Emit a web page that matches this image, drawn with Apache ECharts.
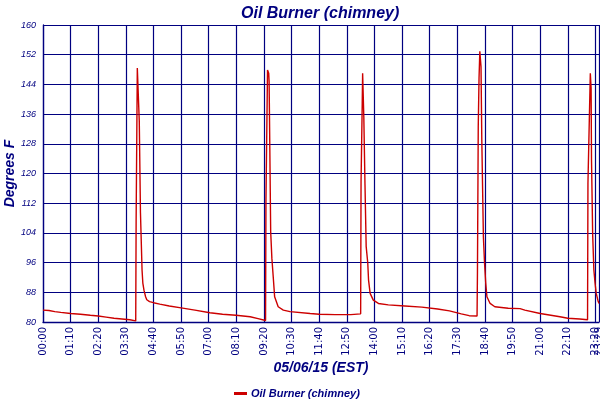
<!DOCTYPE html>
<html lang="en">
<head>
    <meta charset="UTF-8">
    <title>Oil Burner (chimney)</title>
    <script src="https://cdn.jsdelivr.net/npm/echarts@6/dist/echarts.min.js"></script>
    <style>
        html, body { margin: 0; padding: 0; background: #fff; }
    </style>
</head>
<body>
<div id="main" style="width: 600px;height:400px;"></div>
<script>
    // minutes after midnight, 05/06/15
    var times = [0, 15, 30, 45, 70, 95, 120, 140, 160, 180, 200, 220, 235,
        236, 238, 239, 243, 244, 247, 251, 253, 256, 260, 263, 270, 280, 296, 320,
        350, 385, 423, 455, 489, 525, 545, 564,
        565, 568, 569, 572, 573, 574, 577, 580, 584, 587, 596, 609, 626, 677,
        700, 740, 780, 805,
        806, 808, 809, 810, 812, 813, 816, 819, 823, 825, 829, 837, 850, 875, 917,
        960, 1000, 1030, 1060, 1080, 1100,
        1101, 1103, 1105, 1107, 1109, 1110, 1112, 1116, 1119, 1122, 1125, 1133, 1145, 1179,
        1209, 1221, 1260, 1310, 1330, 1360, 1380,
        1381, 1386, 1387, 1389, 1390, 1393, 1396, 1399, 1402, 1407, 1409];
    // degrees F
    var temps = [83.2, 83.1, 82.8, 82.6, 82.3, 82.1, 81.8, 81.6, 81.3, 81.0, 80.8, 80.6, 80.3,
        107.2, 107.2, 148.4, 148.4, 134.0, 109.4, 94.0, 90.5, 88.5, 86.8, 86.0, 85.5, 85.2, 84.8, 84.3,
        83.8, 83.2, 82.5, 82.1, 81.8, 81.4, 80.9, 80.4,
        112.9, 112.9, 147.9, 147.0, 144.8, 134.9, 104.3, 97.2, 91.3, 86.8, 84.1, 83.2, 82.8, 82.3,
        82.1, 82.0, 82.0, 82.2,
        117.8, 117.8, 139.0, 147.0, 147.0, 135.3, 116.9, 100.3, 95.9, 91.3, 87.7, 85.9, 85.0, 84.6, 84.3,
        84.0, 83.5, 83.0, 82.2, 81.7, 81.6,
        93.6, 132.6, 145.7, 152.9, 152.9, 148.8, 129.0, 103.0, 95.8, 90.4, 86.8, 85.0, 84.1, 83.7,
        83.6, 83.2, 82.3, 81.4, 81.0, 80.8, 80.6,
        117.4, 117.4, 147.0, 143.0, 123.7, 103.4, 94.0, 90.5, 87.7, 85.5, 85.0];

    var yMin = 80, yMax = 160, yStep = 8;
    var xStep = 70;   // tick every 01:10
    var xEnd = times[times.length - 1];

    var navy = '#000080';
    var red = '#cc0000';

    function hhmm(m) {
        var h = Math.floor(m / 60), mm = Math.round(m % 60);
        return (h < 10 ? '0' : '') + h + ':' + (mm < 10 ? '0' : '') + mm;
    }

    var points = [];
    for (var i = 0; i < times.length; i++) {
        points.push([times[i], temps[i]]);
    }

    var labelStyle = {
        rotate: 90,
        margin: 5,
        color: navy,
        fontFamily: 'DejaVu Sans',
        fontSize: 10
    };

    var myChart = echarts.init(document.getElementById('main'));
    var option = {
        animation: false,
        title: {
            text: 'Oil Burner (chimney)',
            left: 236,
            top: 1,
            textStyle: {
                color: navy,
                fontFamily: 'Liberation Sans',
                fontStyle: 'italic',
                fontWeight: 'bold',
                fontSize: 16
            }
        },
        legend: {
            left: 229,
            top: 383,
            icon: 'rect',
            itemWidth: 13,
            itemHeight: 3,
            itemGap: 4,
            textStyle: {
                color: navy,
                fontFamily: 'Liberation Sans',
                fontStyle: 'italic',
                fontWeight: 'bold',
                fontSize: 11,
                padding: [0, 0, 0, -1]
            },
            data: ['Oil Burner (chimney)']
        },
        grid: {
            left: 43,
            right: 1,
            top: 25,
            bottom: 78,
            containLabel: false,
            outerBoundsMode: 'none'
        },
        xAxis: [
            {
                type: 'value',
                min: 0,
                max: xEnd,
                interval: xStep,
                name: '05/06/15 (EST)',
                nameLocation: 'middle',
                nameGap: 39,
                nameMoveOverlap: false,
                nameTextStyle: {
                    color: navy,
                    fontFamily: 'Liberation Sans',
                    fontStyle: 'italic',
                    fontWeight: 'bold',
                    fontSize: 14
                },
                axisLine: {lineStyle: {color: navy, width: 1.3}},
                axisTick: {show: false},
                splitLine: {show: true, lineStyle: {color: navy, width: 1.2}},
                axisLabel: Object.assign({
                    showMinLabel: true,
                    showMaxLabel: false,
                    formatter: function (v) { return v === xEnd ? '' : hhmm(v); }
                }, labelStyle)
            },
            {
                // last reading's time, drawn over the 23:20 label like the original
                type: 'value',
                position: 'bottom',
                min: 0,
                max: xEnd,
                interval: xEnd,
                axisLine: {show: false},
                axisTick: {show: false},
                splitLine: {show: false},
                axisLabel: Object.assign({
                    showMinLabel: false,
                    showMaxLabel: true,
                    formatter: function (v) { return v === xEnd ? hhmm(v) : ''; }
                }, labelStyle)
            }
        ],
        yAxis: {
            type: 'value',
            min: yMin,
            max: yMax,
            interval: yStep,
            name: 'Degrees F',
            nameLocation: 'middle',
            nameRotate: 90,
            nameGap: 26,
            nameMoveOverlap: false,
            nameTextStyle: {
                color: navy,
                fontFamily: 'Liberation Sans',
                fontStyle: 'italic',
                fontWeight: 'bold',
                fontSize: 14
            },
            axisLine: {show: true, lineStyle: {color: navy, width: 1.3}},
            axisTick: {show: false},
            splitLine: {show: true, lineStyle: {color: navy, width: 1.2}},
            axisLabel: {
                margin: 7,
                color: navy,
                fontFamily: 'Liberation Sans',
                fontStyle: 'italic',
                fontSize: 9
            }
        },
        series: [
            {
                name: 'Oil Burner (chimney)',
                type: 'line',
                xAxisIndex: 0,
                showSymbol: false,
                symbol: 'none',
                color: red,
                lineStyle: {color: red, width: 1.4},
                data: points
            }
        ]
    };

    myChart.setOption(option);
</script>
</body>
</html>
